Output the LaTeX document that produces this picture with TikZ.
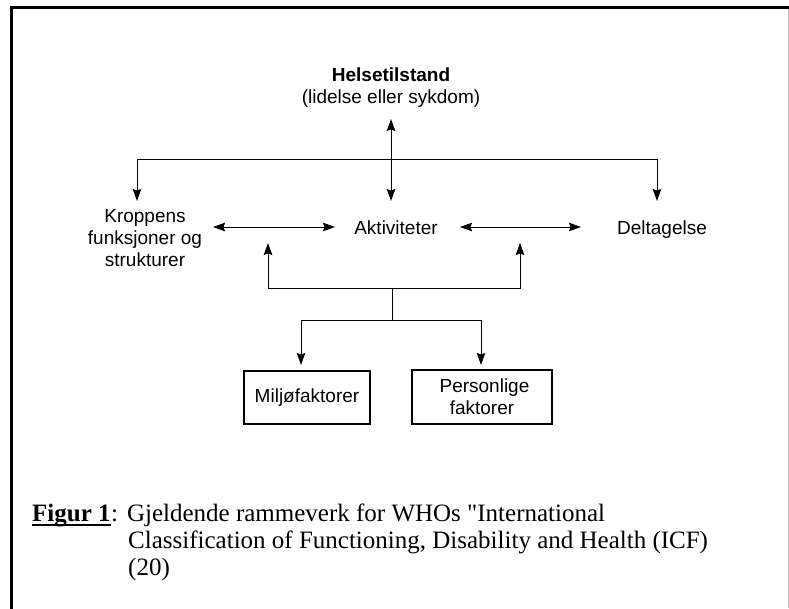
\documentclass[tikz,border=0pt]{standalone}
\usepackage{fontspec}
\setmainfont{Liberation Sans}
\newfontfamily\capfont{Liberation Serif}
\usetikzlibrary{arrows.meta}

\begin{document}
\begin{tikzpicture}[x=1pt,y=-1pt,
  lab/.style={font=\fontsize{19}{22}\selectfont, align=center, inner sep=0pt},
  conn/.style={line width=1pt, draw=black},
  tip/.style={conn, -{Stealth[length=12pt,width=8.5pt,inset=1.5pt]}},
  dtip/.style={conn, {Stealth[length=12pt,width=8.5pt,inset=1.5pt]}-{Stealth[length=12pt,width=8.5pt,inset=1.5pt]}},
  factbox/.style={lab, draw, line width=1.2pt},
  captext/.style={anchor=base west, inner sep=0pt, font=\capfont\fontsize{25}{27}\selectfont},
  frameline/.style={line width=2.2pt, line cap=rect}]

\useasboundingbox (0,0) rectangle (789,608);

% page frame (open at the bottom)
\draw[frameline] (11.5,608) -- (11.5,7.5) -- (789,7.5);
\draw[line width=0.8pt, draw=black!25] (788.3,8.5) -- (788.3,608);

% nodes
\node[lab] (helse) at (391,88) {\textbf{Helsetilstand}\\(lidelse eller sykdom)};
\node[lab] (kropp) at (145,238) {Kroppens\\funksjoner og\\strukturer};
\node[lab, anchor=base] (akt) at (396,234) {Aktiviteter};
\node[lab, anchor=base] (delt) at (662,234) {Deltagelse};
\node[factbox, minimum width=126pt, minimum height=53pt] (milj) at (307,397.5) {Milj\o faktorer};
\node[factbox, minimum width=140pt, minimum height=54pt] (pers) at (482,397) {\hspace*{5pt}Personlige\\faktorer};

% junction points
\coordinate (htop) at (391,119);
\coordinate (hbar) at (391,159);
\coordinate (hbot) at (391,201);
\coordinate (kin) at (137,201);
\coordinate (din) at (657,201);
\coordinate (kl) at (213,227);
\coordinate (kr) at (335,227);
\coordinate (dl) at (460,227);
\coordinate (dr) at (581,227);
\coordinate (ul) at (268,243);
\coordinate (ur) at (520,243);
\coordinate (ubar) at (392,288);
\coordinate (lbar) at (392,320);
\coordinate (min) at (301,365);
\coordinate (pin) at (481,365);

% health condition to the three components
\draw[dtip] (htop) -- (hbot);
\draw[tip] (hbar) -| (kin);
\draw[tip] (hbar) -| (din);

% links between the components
\draw[dtip] (kl) -- (kr);
\draw[dtip] (dl) -- (dr);

% contextual factors
\draw[tip] (ubar) -| (ul);
\draw[tip] (ubar) -| (ur);
\draw[conn] (ubar) -- (lbar);
\draw[tip] (lbar) -| (min);
\draw[tip] (lbar) -| (pin);

% caption
\node[captext] (fig) at (32,521) {\textbf{Figur 1}};
\draw[line width=2pt] ([yshift=-4pt]fig.base west) -- ([yshift=-4pt]fig.base east);
\node[captext] (cap1) at (fig.base east) {:\hspace{9pt}Gjeldende rammeverk for WHOs "International};
\node[captext] (cap2) at (128,548) {Classification of Functioning, Disability and Health (ICF)};
\node[captext] (cap3) at (128,575) {(20)};
\end{tikzpicture}
\end{document}
